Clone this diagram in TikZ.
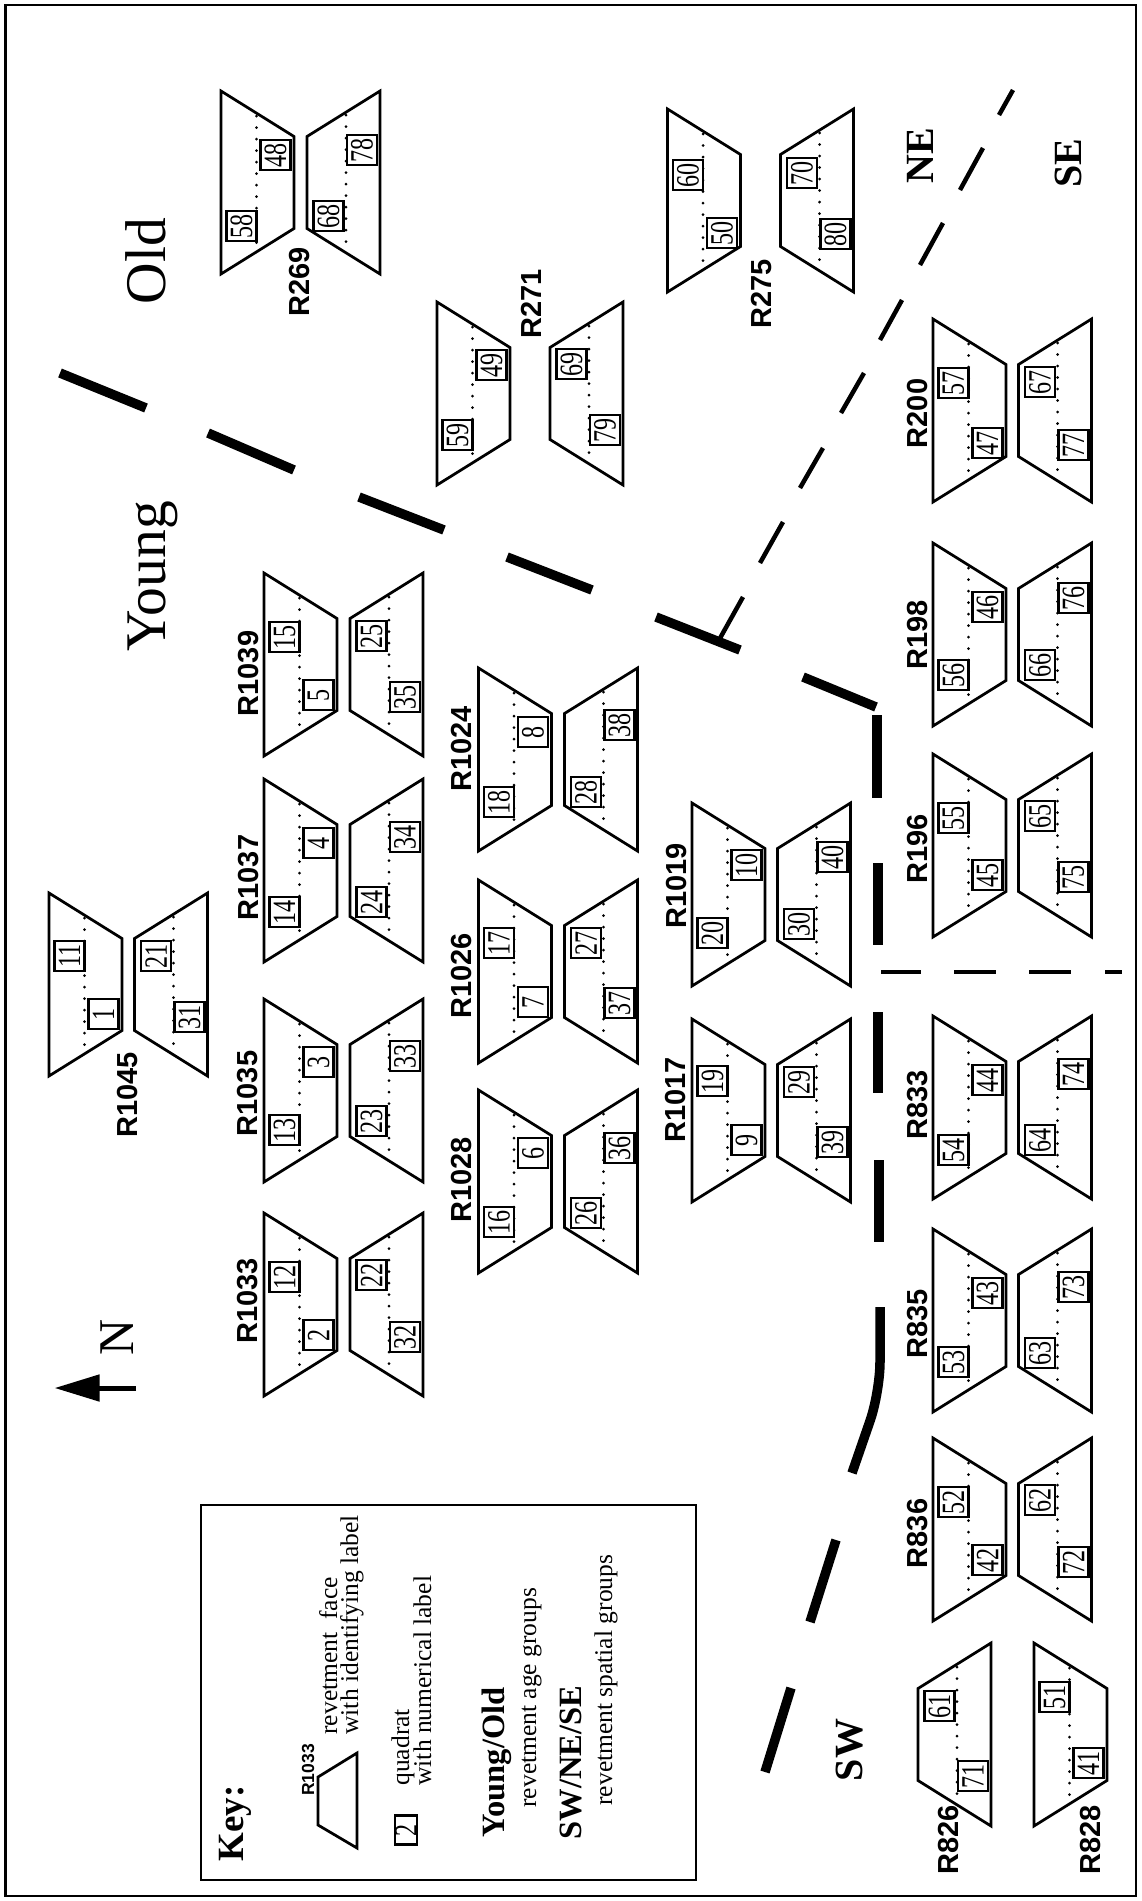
\documentclass[tikz,border=0pt]{standalone}
\usepackage{fontspec}
\setmainfont{Liberation Serif}
\newfontfamily\arialfont{Liberation Sans}
\usetikzlibrary{arrows.meta}
\tikzset{
  trap/.style={line width=1.1pt, line join=miter},
  dotline/.style={line width=1.2pt, line cap=round, dash pattern=on 0pt off 4.6pt},
  qbox/.style={draw, fill=white, line width=0.95pt, rotate=90, inner sep=0pt,
    minimum width=12pt, minimum height=12pt, font=\fontsize{13pt}{13pt}\selectfont},
  rlab/.style={rotate=90, inner sep=0pt, font=\arialfont\bfseries\fontsize{11.6pt}{12pt}\selectfont},
  keytxt/.style={rotate=90, inner sep=0pt, anchor=base west, font=\fontsize{10.2pt}{10pt}\selectfont},
  keybold/.style={rotate=90, inner sep=0pt, anchor=base west, font=\bfseries\fontsize{13pt}{13pt}\selectfont},
  bigtxt/.style={rotate=90, inner sep=0pt, font=\fontsize{23pt}{23pt}\selectfont},
  zonetxt/.style={rotate=90, inner sep=0pt, font=\bfseries\fontsize{16pt}{16pt}\selectfont},
  thickdash/.style={line width=3.8pt},
  thindash/.style={line width=1.8pt}
}
% trapezoid with long edge on the left
\newcommand\trapA[2]{%
  \draw[trap] (#1,#2) -- (#1+73,#2+45.5) -- (#1+73,#2+137.5) -- (#1,#2+183) -- cycle;
  \draw[dotline] (#1+35.5,#2+25) -- (#1+35.5,#2+158);}
% trapezoid with long edge on the right
\newcommand\trapB[2]{%
  \draw[trap] (#1,#2+45.5) -- (#1+73,#2) -- (#1+73,#2+183) -- (#1,#2+137.5) -- cycle;
  \draw[dotline] (#1+39,#2+24) -- (#1+39,#2+159);}
\newcommand\rpair[3]{\trapA{#1}{#3}\trapB{#2}{#3}}
\newcommand\qb[3]{\node[qbox] (q#3) at (#1,#2) {\scalebox{0.74}[1]{#3}};}
\newcommand\qLL[4]{\qb{#1+20.5}{#2+#3+15}{#4}}
\newcommand\qLR[4]{\qb{#1+54.5}{#2+#3+15}{#4}}
\newcommand\qRL[4]{\qb{#1+21.5}{#2+#3+15}{#4}}
\newcommand\qRR[4]{\qb{#1+55}{#2+#3+15}{#4}}
\begin{document}
\begin{tikzpicture}[x=0.4pt,y=-0.4pt]
\useasboundingbox (0,0) rectangle (1141,1901);
\draw[line width=1.15pt] (5.5,5) rectangle (1136,1896);

% ---- revetment faces ----
\rpair{221}{307}{91}
\rpair{437}{550}{302}
\rpair{667.5}{780.5}{109}
\rpair{49}{134.5}{893}
\rpair{264}{350}{573}
\rpair{264}{350}{779}
\rpair{264}{350}{999}
\rpair{264}{350}{1213}
\rpair{478.5}{564.5}{668}
\rpair{478.5}{564.5}{880}
\rpair{478.5}{564.5}{1090}
\rpair{692}{777.5}{803}
\rpair{692}{777.5}{1019}
\rpair{933}{1018.5}{319}
\rpair{933}{1018.5}{543}
\rpair{933}{1018.5}{754}
\rpair{933}{1018.5}{1016}
\rpair{933}{1018.5}{1229}
\rpair{933}{1018.5}{1438}
\trapB{918}{1643}
\trapA{1034}{1643}

% ---- quadrats ----
\qLR{221}{91}{49}{48} \qLL{221}{91}{120}{58} \qRR{307}{91}{44}{78} \qRL{307}{91}{110}{68}
\qLR{437}{302}{48}{49} \qLL{437}{302}{118}{59} \qRL{550}{302}{47}{69} \qRR{550}{302}{113}{79}
\qLL{667.5}{109}{51}{60} \qLR{667.5}{109}{109}{50} \qRL{780.5}{109}{49}{70} \qRR{780.5}{109}{110}{80}
\qLL{49}{893}{48}{11} \qLR{49}{893}{106}{1} \qRL{134.5}{893}{48}{21} \qRR{134.5}{893}{109}{31}
\qLL{264}{573}{49}{15} \qLR{264}{573}{107}{5} \qRL{350}{573}{48}{25} \qRR{350}{573}{109}{35}
\qLR{264}{779}{49}{4} \qLL{264}{779}{118}{14} \qRR{350}{779}{43}{34} \qRL{350}{779}{108}{24}
\qLR{264}{999}{48}{3} \qLL{264}{999}{116}{13} \qRR{350}{999}{42}{33} \qRL{350}{999}{107}{23}
\qLL{264}{1213}{49}{12} \qLR{264}{1213}{107}{2} \qRL{350}{1213}{47}{22} \qRR{350}{1213}{109}{32}
\qLR{478.5}{668}{49}{8} \qLL{478.5}{668}{119}{18} \qRR{564.5}{668}{42}{38} \qRL{564.5}{668}{109}{28}
\qLL{478.5}{880}{48}{17} \qLR{478.5}{880}{107}{7} \qRL{564.5}{880}{48}{27} \qRR{564.5}{880}{108}{37}
\qLR{478.5}{1090}{48}{6} \qLL{478.5}{1090}{117}{16} \qRR{564.5}{1090}{43}{36} \qRL{564.5}{1090}{108}{26}
\qLR{692}{803}{47}{10} \qLL{692}{803}{115}{20} \qRR{777.5}{803}{39}{40} \qRL{777.5}{803}{106}{30}
\qLL{692}{1019}{47}{19} \qLR{692}{1019}{106}{9} \qRL{777.5}{1019}{48}{29} \qRR{777.5}{1019}{108}{39}
\qLL{933}{319}{49}{57} \qLR{933}{319}{109}{47} \qRL{1018.5}{319}{48}{67} \qRR{1018.5}{319}{111}{77}
\qLR{933}{543}{49}{46} \qLL{933}{543}{117}{56} \qRR{1018.5}{543}{40}{76} \qRL{1018.5}{543}{107}{66}
\qLL{933}{754}{49}{55} \qLR{933}{754}{106}{45} \qRL{1018.5}{754}{47}{65} \qRR{1018.5}{754}{108}{75}
\qLR{933}{1016}{49}{44} \qLL{933}{1016}{119}{54} \qRR{1018.5}{1016}{43}{74} \qRL{1018.5}{1016}{109}{64}
\qLR{933}{1229}{49}{43} \qLL{933}{1229}{118}{53} \qRR{1018.5}{1229}{43}{73} \qRL{1018.5}{1229}{109}{63}
\qLL{933}{1438}{49}{52} \qLR{933}{1438}{107}{42} \qRL{1018.5}{1438}{47}{62} \qRR{1018.5}{1438}{109}{72}
\qRL{918}{1643}{48}{61} \qRR{918}{1643}{118}{71}
\qLL{1034}{1643}{39}{51} \qLR{1034}{1643}{105}{41}

% ---- revetment labels ----
\node[rlab] (r269) at (300,282) {R269};
\node[rlab] (r271) at (531,304) {R271};
\node[rlab] (r275) at (762,294) {R275};
\node[rlab] (r1045) at (128,1095) {R1045};
\node[rlab] (r1039) at (249,673.5) {R1039};
\node[rlab] (r1037) at (249,877.5) {R1037};
\node[rlab] (r1035) at (248,1093.5) {R1035};
\node[rlab] (r1033) at (248,1301) {R1033};
\node[rlab] (r1024) at (462,749) {R1024};
\node[rlab] (r1026) at (462,976) {R1026};
\node[rlab] (r1028) at (462,1180) {R1028};
\node[rlab] (r1019) at (677,886) {R1019};
\node[rlab] (r1017) at (676,1100) {R1017};
\node[rlab] (r200) at (918,413.5) {R200};
\node[rlab] (r198) at (918,635) {R198};
\node[rlab] (r196) at (918,849) {R196};
\node[rlab] (r833) at (918,1105) {R833};
\node[rlab] (r835) at (918,1324) {R835};
\node[rlab] (r836) at (918,1533.5) {R836};
\node[rlab] (r826) at (949,1840) {R826};
\node[rlab] (r828) at (1091,1840) {R828};

% ---- group labels ----
\node[bigtxt] (old) at (145.5,261) {Old};
\node[bigtxt] (young) at (152.5,576.5) {Young};
\node[zonetxt] (ne) at (920.5,155.5) {NE};
\node[zonetxt] (se) at (1068,163.5) {SE};
\node[zonetxt] (sw) at (850,1750) {SW};

% ---- north arrow ----
\node[rotate=90, inner sep=0pt, font=\fontsize{20pt}{20pt}\selectfont] (north) at (117,1337) {N};
\coordinate (arrtail) at (136,1388);
\coordinate (arrtip) at (54.6,1388);
\draw[line width=2pt, -{Triangle[length=18pt,width=10.4pt]}] (arrtail) -- (arrtip);

% ---- Young/Old boundary (thick dashes) ----
\draw[thickdash] (60,373) -- (146,408);
\draw[thickdash] (208,433) -- (294,470);
\draw[thickdash] (359,497) -- (444,530);
\draw[thickdash] (507,557) -- (592,590);
\draw[thickdash] (656,617) -- (740,650);
\draw[thickdash] (803,677) -- (876,707);
\draw[thickdash] (877,715) -- (877,798);
\draw[thickdash] (878,863) -- (878,945);
\draw[thickdash] (878,1012) -- (878,1093);
\draw[thickdash] (879,1160) -- (879,1242);
\draw[thickdash, rounded corners=12pt] (880,1307) -- (880,1392) -- (852,1473);
\draw[thickdash] (836,1540) -- (810,1622);
\draw[thickdash] (791,1688) -- (765,1772);

% ---- NE/SE boundary (thin dashes) ----
\draw[thindash] (1013,90) -- (999,115);
\draw[thindash] (983,148) -- (960,190);
\draw[thindash] (943,223) -- (920,265);
\draw[thindash] (902,300) -- (880,340);
\draw[thindash] (864,373) -- (841,413);
\draw[thindash] (823,448) -- (800,488);
\draw[thindash] (783,522) -- (760,563);
\draw[thindash] (743,597) -- (719,640);
% ---- SE/SW boundary ----
\draw[thindash] (881,972) -- (921,972);
\draw[thindash] (954,972) -- (996,972);
\draw[thindash] (1029,972) -- (1071,972);
\draw[thindash] (1105,972) -- (1122,972);

% ---- key ----
\draw[line width=1pt] (201,1505) rectangle (696,1880);
\node[keybold, font=\bfseries\fontsize{14.8pt}{15pt}\selectfont] (keyt) at (243,1862) {Key:};
\node[rlab, font=\arialfont\bfseries\fontsize{7pt}{7pt}\selectfont] (keyr) at (308,1770) {R1033};
\draw[trap] (318,1777) -- (357,1753) -- (357,1848) -- (318,1825) -- cycle;
\node[keytxt] (k1) at (337,1735) {revetment\ \ face};
\node[keytxt] (k2) at (358,1735) {with identifying label};
\node[qbox, minimum width=11.6pt, minimum height=8pt] (keyq) at (406,1830) {\scalebox{0.74}[1]{2}};
\node[keytxt] (k3) at (409,1786) {quadrat};
\node[keytxt] (k4) at (431,1786) {with numerical label};
\node[keybold] (k5) at (504,1838) {Young/Old};
\node[keytxt] (k6) at (536,1808) {revetment age groups};
\node[keybold] (k7) at (581,1840) {SW/NE/SE};
\node[keytxt] (k8) at (612,1806) {revetment spatial groups};
\end{tikzpicture}
\end{document}
